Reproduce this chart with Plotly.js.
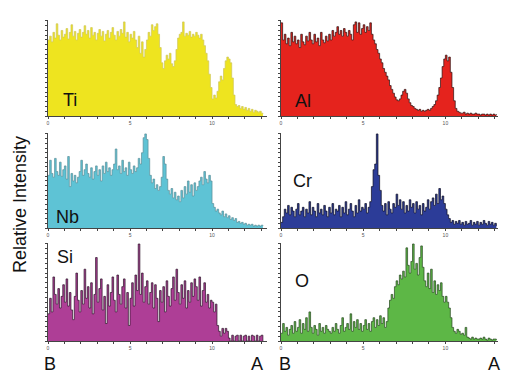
<!DOCTYPE html>
<html><head><meta charset="utf-8">
<script src="https://cdn.plot.ly/plotly-3.0.1.min.js"></script>
<style>html,body{margin:0;padding:0;background:#fff}#chart{width:522px;height:389px}</style>
</head><body><div id="chart"></div>
<script>
// Depth bins (arbitrary units), start and width
const binStart = 0;
const binWidth = 0.1;

const tiValues = [
0.80,0.84,0.78,0.88,0.82,0.97,0.85,0.80,0.90,0.83,
0.86,0.92,0.81,0.88,0.96,0.84,0.89,0.80,0.87,0.91,
0.83,0.88,0.95,0.86,0.90,0.82,0.93,0.85,0.88,0.80,
0.87,0.91,0.84,0.89,0.79,0.86,0.90,0.82,0.88,0.93,
0.85,0.80,0.89,0.84,0.91,0.87,0.99,0.83,0.88,0.78,
0.86,0.82,0.89,0.80,0.72,0.84,0.66,0.78,0.62,0.70,
0.80,0.88,0.84,0.96,0.90,0.94,0.97,0.86,0.72,0.56,
0.50,0.58,0.64,0.60,0.66,0.55,0.52,0.58,0.70,0.82,
0.86,0.88,0.99,0.84,0.87,0.85,0.89,0.83,0.86,0.84,
0.88,0.85,0.82,0.86,0.80,0.74,0.66,0.58,0.44,0.30,
0.18,0.22,0.19,0.26,0.36,0.42,0.38,0.50,0.58,0.62,
0.60,0.56,0.40,0.22,0.12,0.10,0.11,0.08,0.10,0.07,
0.09,0.06,0.08,0.05,0.07,0.04,0.06,0.05,0.04,0.05,
0.03,0.02];

const alValues = [
0.98,0.80,0.86,0.76,0.82,0.74,0.88,0.78,0.84,0.76,
0.80,0.72,0.86,0.78,0.75,0.84,0.79,0.88,0.80,0.76,
0.86,0.78,0.82,0.74,0.88,0.80,0.77,0.84,0.79,0.86,
0.80,0.90,0.84,0.88,0.94,0.86,0.90,0.84,0.92,0.88,
0.84,0.90,0.86,0.80,0.96,0.99,0.88,0.98,0.86,0.92,
0.96,0.88,0.94,0.90,0.98,0.86,0.80,0.76,0.70,0.66,
0.60,0.56,0.50,0.46,0.42,0.38,0.32,0.28,0.24,0.20,
0.17,0.16,0.18,0.22,0.26,0.28,0.24,0.18,0.14,0.11,
0.10,0.08,0.07,0.06,0.07,0.05,0.06,0.05,0.06,0.07,
0.06,0.08,0.10,0.12,0.16,0.22,0.30,0.40,0.52,0.60,
0.64,0.58,0.62,0.46,0.30,0.16,0.08,0.05,0.04,0.03,
0.03,0.04,0.02,0.03,0.02,0.03,0.02,0.02,0.03,0.02,
0.02,0.01,0.02,0.02,0.01,0.02,0.01,0.02,0.01,0.02,
0.01,0.02];

const nbValues = [
0.56,0.72,0.58,0.54,0.74,0.60,0.56,0.70,0.55,0.62,
0.66,0.52,0.76,0.44,0.58,0.50,0.56,0.48,0.54,0.60,
0.72,0.56,0.62,0.68,0.58,0.54,0.64,0.52,0.60,0.66,
0.56,0.62,0.50,0.66,0.58,0.70,0.60,0.64,0.56,0.62,
0.68,0.84,0.62,0.66,0.58,0.72,0.60,0.64,0.56,0.70,
0.62,0.58,0.66,0.60,0.64,0.74,0.68,0.80,0.96,1.00,
0.94,0.74,0.56,0.48,0.52,0.42,0.46,0.40,0.44,0.54,
0.76,0.68,0.52,0.40,0.36,0.42,0.32,0.38,0.30,0.34,
0.28,0.40,0.32,0.44,0.36,0.50,0.38,0.46,0.34,0.48,
0.40,0.44,0.50,0.54,0.46,0.60,0.52,0.48,0.56,0.50,
0.26,0.22,0.18,0.20,0.16,0.14,0.18,0.12,0.15,0.11,
0.13,0.09,0.11,0.08,0.10,0.06,0.07,0.05,0.06,0.04,
0.05,0.03,0.04,0.03,0.04,0.02,0.03,0.02,0.03,0.02,
0.03,0.02];

const crValues = [
0.06,0.12,0.20,0.16,0.24,0.14,0.22,0.18,0.12,0.20,
0.26,0.14,0.18,0.22,0.12,0.20,0.16,0.28,0.14,0.22,
0.18,0.12,0.26,0.16,0.20,0.14,0.24,0.18,0.12,0.22,
0.16,0.26,0.14,0.20,0.18,0.24,0.12,0.22,0.16,0.28,
0.14,0.20,0.26,0.18,0.12,0.24,0.16,0.30,0.18,0.22,
0.20,0.26,0.16,0.22,0.28,0.44,0.62,0.68,1.00,0.56,
0.40,0.24,0.18,0.26,0.14,0.28,0.20,0.16,0.26,0.22,
0.36,0.24,0.30,0.20,0.28,0.16,0.24,0.18,0.30,0.22,
0.26,0.16,0.28,0.20,0.24,0.14,0.26,0.18,0.22,0.30,
0.20,0.28,0.32,0.24,0.36,0.26,0.42,0.30,0.34,0.26,
0.20,0.14,0.10,0.06,0.08,0.04,0.07,0.05,0.08,0.04,
0.06,0.03,0.07,0.04,0.05,0.08,0.03,0.06,0.04,0.07,
0.03,0.06,0.04,0.08,0.05,0.03,0.07,0.04,0.06,0.03,
0.05,0.02];

const siValues = [
0.28,0.44,0.30,0.66,0.48,0.38,0.54,0.34,0.46,0.58,
0.40,0.64,0.36,0.50,0.32,0.22,0.46,0.70,0.42,0.30,
0.52,0.38,0.74,0.44,0.56,0.34,0.60,0.28,0.48,0.86,
0.40,0.54,0.64,0.32,0.46,0.18,0.58,0.36,0.50,0.66,
0.42,0.30,0.68,0.48,0.38,0.56,0.64,0.34,0.50,0.16,
0.44,0.60,0.36,0.68,0.52,1.00,0.48,0.70,0.40,0.56,
0.62,0.38,0.50,0.60,0.34,0.58,0.44,0.20,0.52,0.40,
0.56,0.30,0.62,0.46,0.36,0.54,0.66,0.42,0.74,0.50,
0.38,0.58,0.44,0.62,0.34,0.52,0.40,0.60,0.46,0.64,
0.56,0.42,0.66,0.36,0.52,0.60,0.40,0.48,0.34,0.42,
0.40,0.30,0.38,0.16,0.10,0.05,0.13,0.08,0.13,0.10,
0.03,0.00,0.06,0.00,0.05,0.06,0.00,0.06,0.00,0.05,
0.06,0.00,0.05,0.00,0.06,0.05,0.00,0.06,0.00,0.05,
0.06,0.00];

const oValues = [
0.08,0.18,0.10,0.14,0.06,0.12,0.16,0.08,0.20,0.10,
0.14,0.22,0.08,0.18,0.12,0.24,0.10,0.30,0.14,0.08,
0.16,0.12,0.06,0.18,0.10,0.14,0.08,0.16,0.12,0.10,
0.08,0.14,0.10,0.18,0.12,0.08,0.16,0.24,0.10,0.14,
0.18,0.12,0.28,0.10,0.20,0.14,0.22,0.12,0.18,0.10,
0.16,0.22,0.12,0.18,0.10,0.20,0.24,0.14,0.22,0.16,
0.26,0.18,0.24,0.14,0.20,0.34,0.42,0.48,0.44,0.56,
0.62,0.58,0.68,0.64,0.72,0.66,0.96,0.78,0.70,0.82,
1.00,0.74,0.80,0.68,0.86,0.98,0.76,0.62,0.56,0.70,
0.54,0.74,0.50,0.62,0.48,0.58,0.52,0.60,0.46,0.40,
0.46,0.40,0.34,0.24,0.14,0.10,0.08,0.12,0.10,0.07,
0.08,0.06,0.14,0.04,0.03,0.02,0.04,0.02,0.03,0.02,
0.02,0.03,0.02,0.04,0.02,0.01,0.03,0.02,0.01,0.02,
0.02,0.01];

const elementNames = ['Ti','Al','Nb','Cr','Si','O'];
const tickValues = [0,1,2,3,4,5,6,7,8,9,10,11,12,13];
const tickLabels = ['0','','','','','5','','','','','10','','',''];
const endLabels = ['B','A'];
const yAxisTitle = 'Relative Intensity';

// ---- layout (pixels) ----
const W = 522, H = 389;
const colPx = [[48, 267, 13.35], [281, 498, 13.2]];
const rowPx = [[20, 116], [133, 228], [243, 341]];

const panels = [
  {y: tiValues, fill: '#EEE41F', line: '#cfc65a', col: 0, row: 0, lab: [70, 100]},
  {y: alValues, fill: '#E5231D', line: '#2a1010', col: 1, row: 0, lab: [303, 101]},
  {y: nbValues, fill: '#5EC3D5', line: '#5a8e98', col: 0, row: 1, lab: [67, 217]},
  {y: crValues, fill: '#2C3C98', line: '#0c0c20', col: 1, row: 1, lab: [302, 181]},
  {y: siValues, fill: '#AE3E96', line: '#2a1226', col: 0, row: 2, lab: [65, 257]},
  {y: oValues,  fill: '#5DB746', line: '#27461f', col: 1, row: 2, lab: [302, 281]}
];

const px = v => v / W;
const py = v => 1 - v / H;

const data = [];
const layout = {
  width: W, height: H,
  margin: {l: 0, r: 0, t: 0, b: 0},
  paper_bgcolor: '#fff', plot_bgcolor: 'rgba(0,0,0,0)',
  showlegend: false,
  font: {family: 'Liberation Sans, Arial, sans-serif', color: '#111'},
  annotations: []
};

panels.forEach((p, i) => {
  const n = i + 1;
  const xa = n === 1 ? 'x' : 'x' + n;
  const ya = n === 1 ? 'y' : 'y' + n;
  const c = colPx[p.col], r = rowPx[p.row];
  data.push({
    type: 'scatter', mode: 'lines', x0: binStart, dx: binWidth, y: p.y,
    xaxis: xa, yaxis: ya, fill: 'tozeroy', fillcolor: p.fill,
    line: {color: p.line, width: 0.7, shape: 'hv'}, hoverinfo: 'skip'
  });
  layout[n === 1 ? 'xaxis' : 'xaxis' + n] = {
    domain: [px(c[0]), px(c[1])], range: [0, c[2]], anchor: ya,
    showgrid: false, zeroline: false, showline: true, linecolor: '#444', linewidth: 1,
    ticks: 'outside', ticklen: 2, tickwidth: 1, tickcolor: '#444',
    tickvals: tickValues, ticktext: tickLabels,
    tickfont: {size: 5, color: '#555'}, fixedrange: true
  };
  layout[n === 1 ? 'yaxis' : 'yaxis' + n] = {
    domain: [py(r[1]), py(r[0])], range: [0, 1.01], anchor: xa,
    showgrid: false, zeroline: false, showline: true, linecolor: '#444', linewidth: 1,
    ticks: 'outside', ticklen: 2, tickwidth: 1, tickcolor: '#444', dtick: 0.05,
    showticklabels: false, fixedrange: true
  };
  layout.annotations.push({
    xref: 'paper', yref: 'paper', x: px(p.lab[0]), y: py(p.lab[1]),
    xanchor: 'center', yanchor: 'middle', showarrow: false,
    text: elementNames[i], font: {size: 18, color: '#111'}
  });
});

layout.annotations.push({
  xref: 'paper', yref: 'paper', x: px(20), y: py(205), xanchor: 'center', yanchor: 'middle',
  showarrow: false, textangle: -90, text: yAxisTitle, font: {size: 18, color: '#111'}
});
[[50, 257], [285, 494]].forEach(pos => {
  pos.forEach((xp, k) => {
    layout.annotations.push({
      xref: 'paper', yref: 'paper', x: px(xp), y: py(364), xanchor: 'center', yanchor: 'middle',
      showarrow: false, text: endLabels[k], font: {size: 18, color: '#111'}
    });
  });
});

Plotly.newPlot('chart', data, layout, {displayModeBar: false, staticPlot: true});
</script>
</body></html>
